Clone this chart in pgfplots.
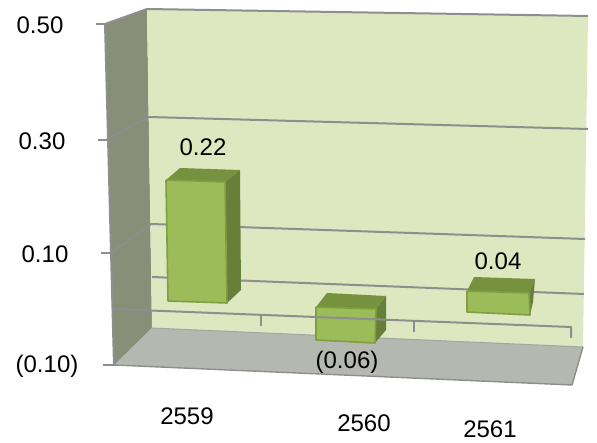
\documentclass[border=0pt]{standalone}
\usepackage{pgfplots}
\pgfplotsset{compat=1.18}
\usepackage{fontspec}
\setmainfont{Liberation Sans}

\definecolor{wallback}{HTML}{DDE8C1}
\definecolor{wallside}{HTML}{878F79}
\definecolor{floorc}{HTML}{B5B7B1}
\definecolor{gridc}{HTML}{8E8E8E}
\definecolor{barfront}{HTML}{9CBB59}
\definecolor{bartop}{HTML}{76923F}
\definecolor{barside}{HTML}{667F39}
\definecolor{baredge}{HTML}{7F9F40}

\tikzset{
  face/.style={fill=#1, draw=none},
  grid3d/.style={draw=gridc, line width=2pt, line join=round},
  edge3d/.style={draw=baredge, line width=1.6pt, line join=round},
}

\begin{document}
\begin{tikzpicture}
\begin{axis}[
    hide axis,
    scale only axis,
    width=597pt, height=443pt,
    xmin=0, xmax=597, ymin=0, ymax=443,
    y dir=reverse,
    clip=false,
]
\coordinate (nw) at (axis cs:0,0);
\coordinate (se) at (axis cs:597,443);
% walls and floor in pixels
\addplot[face=wallside] coordinates {(105,24) (147,9) (152,328) (114,366) (105,24)};
\addplot[face=wallback] coordinates {(147,9) (588,16) (583,347) (152,328) (147,9)};
\addplot[face=floorc] coordinates {(152,328) (583,347) (572,385) (114,365) (152,328)};

% gridlines on the back wall
\addplot[grid3d] coordinates {(105,24) (147,9) (588,16)};
\addplot[grid3d] coordinates {(107,139) (149,117) (588,129)};
\addplot[grid3d] coordinates {(111,253) (151,224) (585,239)};
\addplot[grid3d] coordinates {(152,277) (584,294)};
\addplot[draw=gridc!80, line width=1pt] coordinates {(152,328) (583,347)};

% value axis and its ticks
\addplot[grid3d] coordinates {(105,24) (114,366)};
\addplot[grid3d] coordinates {(96,24) (105,24)};
\addplot[grid3d] coordinates {(98,140) (107,140)};
\addplot[grid3d] coordinates {(101,253) (111,253)};
\addplot[grid3d] coordinates {(103,365) (114,365)};

% floor edges
\addplot[draw=gridc, line width=1.4pt] coordinates {(114,365) (572,385) (583,347)};

% bar 2559: 0.22
\addplot[face=barside] coordinates {(225,182) (240,170) (241,290) (227,303) (225,182)};
\addplot[face=bartop] coordinates {(166,180) (180,168) (240,170) (225,182) (166,180)};
\addplot[face=barfront, edge3d] coordinates {(166,180) (225,182) (227,303) (168,301) (166,180)};

% bar 2560: -0.06
\addplot[face=barside] coordinates {(376,309) (386,296) (386,330) (375,343) (376,309)};
\addplot[face=bartop] coordinates {(316,307) (327,293) (386,296) (376,309) (316,307)};
\addplot[face=barfront, edge3d] coordinates {(316,307) (376,309) (375,343) (316,340) (316,307)};

% bar 2561: 0.04
\addplot[face=barside] coordinates {(529,293) (535,279) (533,302) (530,315) (529,293)};
\addplot[face=bartop] coordinates {(467,291) (474,277) (535,279) (529,293) (467,291)};
\addplot[face=barfront, edge3d] coordinates {(467,291) (529,293) (530,315) (467,312) (467,291)};

% category axis at value 0, runs in front of the bars
\addplot[grid3d] coordinates {(112,309) (571,327) (571,338)};
\addplot[grid3d] coordinates {(261,315) (261,326)};
\addplot[grid3d] coordinates {(414,320) (414,332)};

% all texts
\addplot[draw=none, nodes near coords, point meta=explicit symbolic,
    nodes near coords style={anchor=center, inner sep=0pt, text=black,
      font=\fontsize{24}{27}\selectfont}]
  coordinates {
    (203,147)[0.22] (347,362)[(0.06)] (498,261)[0.04]
    (40,25)[0.50] (42,141)[0.30] (45,254)[0.10] (47,366)[(0.10)]
    (187,416)[2559] (364,423)[2560] (490,429)[2561]
  };
\end{axis}
\pgfresetboundingbox
\path[use as bounding box] (nw) rectangle (se);
\end{tikzpicture}
\end{document}
